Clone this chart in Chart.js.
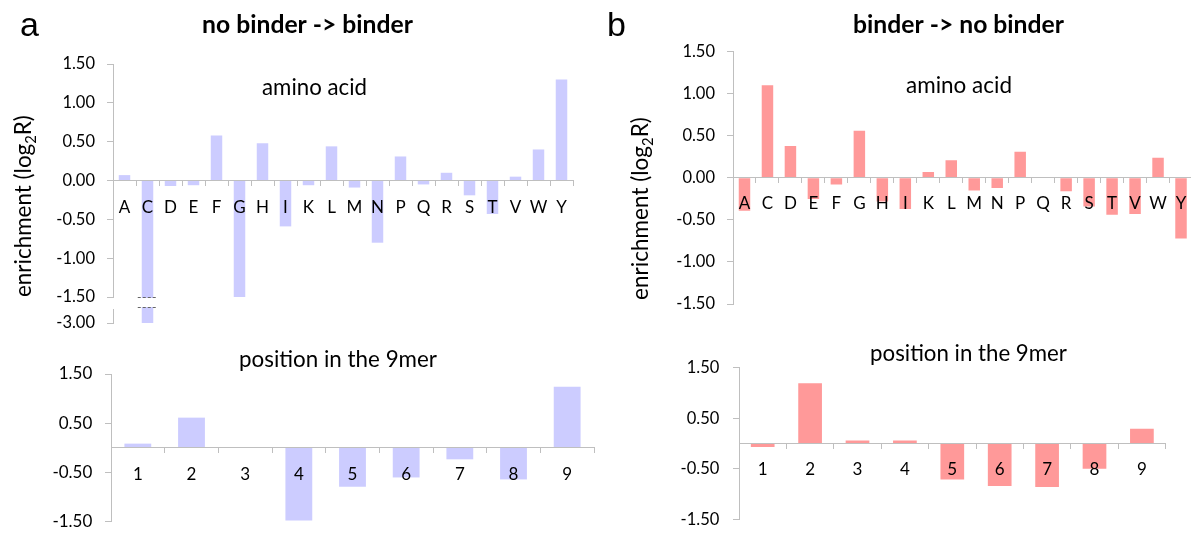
<!DOCTYPE html>
<html>
<head>
<meta charset="utf-8">
<script src="https://cdn.jsdelivr.net/npm/chart.js@4.4.0/dist/chart.umd.min.js"></script>
<style>
html,body{margin:0;padding:0;background:#fff;overflow:hidden;width:1191px;height:544px;}
canvas{position:absolute;left:0;top:0;}
</style>
</head>
<body>
<canvas id="cA1" width="1200" height="544"></canvas>
<canvas id="cA2" width="1200" height="544"></canvas>
<canvas id="cB1" width="1200" height="544"></canvas>
<canvas id="cB2" width="1200" height="544"></canvas>
<script>
// ---------------- data ----------------
const aminoAcids = ['A','C','D','E','F','G','H','I','K','L','M','N','P','Q','R','S','T','V','W','Y'];
const positions = ['1','2','3','4','5','6','7','8','9'];

const aaNoBinderToBinder  = [0.07,-3.00,-0.07,-0.06,0.58,-1.50,0.48,-0.59,-0.06,0.44,-0.09,-0.80,0.31,-0.05,0.10,-0.19,-0.43,0.05,0.40,1.30];
const posNoBinderToBinder = [0.08,0.61,0.00,-1.49,-0.80,-0.61,-0.24,-0.65,1.24];
const aaBinderToNoBinder  = [-0.39,1.10,0.38,-0.25,-0.08,0.56,-0.28,-0.37,0.07,0.21,-0.15,-0.12,0.31,0.01,-0.16,-0.34,-0.44,-0.43,0.24,-0.72];
const posBinderToNoBinder = [-0.07,1.19,0.06,0.06,-0.71,-0.84,-0.86,-0.50,0.29];

const aaTicksBroken = [1.5,1.0,0.5,0,-0.5,-1.0,-1.5,-3.0];
const aaTicks       = [1.5,1.0,0.5,0,-0.5,-1.0,-1.5];
const posTicks      = [1.5,0.5,-0.5,-1.5];

// broken axis: values below breakAt are compressed
const breakAt = -1.5;
const breakFactor = 2/9;
const fwd = v => v >= breakAt ? v : breakAt + (v - breakAt) * breakFactor;
const inv = t => t >= breakAt - 1e-9 ? t : breakAt + (t - breakAt) / breakFactor;
const ident = v => v;

const BLUE = '#CCCCFF';
const PINK = '#FF9999';
const AXIS = '#BFBFBF';
const FONT = 'Lato';

// ---------------- plugins ----------------
function breakPlugin(raw) {
  return {
    id: 'axisBreak',
    afterDraw(chart) {
      const {ctx, scales: {y}} = chart;
      const yb = Math.round(y.getPixelForValue(fwd(breakAt)));
      ctx.save();
      ctx.fillStyle = '#fff';
      ctx.fillRect(y.right - 2, yb + 1, 4, 11);
      const meta = chart.getDatasetMeta(0);
      meta.data.forEach((bar, i) => {
        if (raw[i] < breakAt - 0.05) {
          const half = bar.width / 2;
          ctx.fillStyle = '#fff';
          ctx.fillRect(bar.x - half - 1, yb + 1, bar.width + 2, 9);
          ctx.strokeStyle = '#666';
          ctx.lineWidth = 1;
          ctx.setLineDash([3, 2]);
          [yb + 0.5, yb + 10.5].forEach(py => {
            ctx.beginPath();
            ctx.moveTo(bar.x - half - 4, py);
            ctx.lineTo(bar.x + half + 3, py);
            ctx.stroke();
          });
        }
      });
      ctx.restore();
    }
  };
}

function fitSize(ctx, text, weight, family, target) {
  ctx.font = `${weight} 100px ${family}`;
  return 100 * target / ctx.measureText(text).width;
}

const figureTexts = [
  {s: 'a', x: 20, y: 36, size: 34, family: '"Liberation Sans"', weight: 'normal', align: 'left'},
  {s: 'b', x: 607, y: 36, size: 34, family: '"Liberation Sans"', weight: 'normal', align: 'left'},
  {s: 'no binder -> binder', x: 307.5, y: 33.3, width: 211, weight: 'bold', align: 'center'},
  {s: 'binder -> no binder', x: 958.5, y: 33.3, width: 211, weight: 'bold', align: 'center'},
  {s: 'amino acid', x: 314.5, y: 95, width: 105, weight: 'normal', align: 'center'},
  {s: 'amino acid', x: 959, y: 92.7, width: 106, weight: 'normal', align: 'center'},
  {s: 'position in the 9mer', x: 338, y: 366.7, width: 198, weight: 'normal', align: 'center'},
  {s: 'position in the 9mer', x: 968.5, y: 361, width: 197, weight: 'normal', align: 'center'}
];
const yTitles = [
  {x: 30.7, y: 297, len: 182},
  {x: 648.3, y: 300, len: 183}
];

function drawYTitle(ctx, bx, by, len) {
  const parts = [['enrichment (log', 1, 0], ['2', 0.66, 0.22], ['R)', 1, 0]];
  let total = 0;
  parts.forEach(p => { ctx.font = `${100 * p[1]}px ${FONT}`; total += ctx.measureText(p[0]).width; });
  const size = 100 * len / total;
  ctx.save();
  ctx.translate(bx, by);
  ctx.rotate(-Math.PI / 2);
  ctx.fillStyle = '#000';
  ctx.textAlign = 'left';
  ctx.textBaseline = 'alphabetic';
  let x = 0;
  parts.forEach(p => {
    ctx.font = `${size * p[1]}px ${FONT}`;
    ctx.fillText(p[0], x, p[2] * size);
    x += ctx.measureText(p[0]).width;
  });
  ctx.restore();
}

const textPlugin = {
  id: 'figureText',
  afterDraw(chart) {
    const ctx = chart.ctx;
    ctx.save();
    ctx.fillStyle = '#000';
    ctx.textBaseline = 'alphabetic';
    figureTexts.forEach(t => {
      const fam = t.family || FONT;
      const size = t.size || fitSize(ctx, t.s, t.weight, fam, t.width);
      ctx.font = `${t.weight} ${size}px ${fam}`;
      ctx.textAlign = t.align;
      ctx.fillText(t.s, t.x, t.y);
    });
    yTitles.forEach(t => drawYTitle(ctx, t.x, t.y, t.len));
    ctx.restore();
  }
};

// ---------------- chart factory ----------------
function makeChart(id, cfg) {
  const yW = 80;
  const W = 1200, H = 544;
  const tf = cfg.transform || ident;
  const invf = cfg.transform ? inv : ident;
  return new Chart(document.getElementById(id), {
    type: 'bar',
    data: {
      labels: cfg.labels,
      datasets: [{
        data: cfg.values.map(tf),
        backgroundColor: cfg.color,
        borderWidth: 0,
        categoryPercentage: 1,
        barPercentage: 0.5
      }]
    },
    options: {
      responsive: false,
      animation: false,
      events: [],
      layout: {padding: {left: cfg.area.left - yW, right: W - cfg.area.right, top: cfg.area.top, bottom: H - cfg.area.bottom}},
      plugins: {legend: {display: false}, tooltip: {enabled: false}, title: {display: false}},
      scales: {
        x: {
          type: 'category',
          position: {y: 0},
          offset: true,
          grid: {display: true, offset: true, drawOnChartArea: false, drawTicks: true, tickLength: 5, color: AXIS, lineWidth: 1, z: 1},
          border: {display: true, color: AXIS, width: 1, z: 1},
          ticks: {font: {family: FONT, size: cfg.xFont}, color: '#000', padding: cfg.xPad, maxRotation: 0, autoSkip: false, z: 1}
        },
        y: {
          type: 'linear',
          min: tf(cfg.yMin),
          max: tf(cfg.yMax),
          afterBuildTicks: s => { s.ticks = cfg.ticks.map(v => ({value: tf(v)})); },
          afterFit: s => { s.width = yW; },
          grid: {display: true, drawOnChartArea: false, drawTicks: true, tickLength: 6, color: AXIS, lineWidth: 1},
          border: {display: true, color: AXIS, width: 1},
          ticks: {
            font: {family: FONT, size: cfg.yFont},
            color: '#000',
            padding: cfg.yPad,
            callback: v => invf(v).toFixed(2)
          }
        }
      }
    },
    plugins: cfg.plugins || []
  });
}

makeChart('cA1', {
  labels: aminoAcids, values: aaNoBinderToBinder, color: BLUE,
  area: {left: 113, right: 573, top: 64, bottom: 323},
  yMin: -3.0, yMax: 1.5, ticks: aaTicksBroken, transform: fwd,
  xFont: 17, yFont: 16.5, xPad: 11.5, yPad: 12,
  plugins: [breakPlugin(aaNoBinderToBinder), textPlugin]
});
makeChart('cA2', {
  labels: positions, values: posNoBinderToBinder, color: BLUE,
  area: {left: 111, right: 594, top: 374, bottom: 534},
  yMin: -1.5, yMax: 1.5, ticks: posTicks,
  xFont: 17, yFont: 17, xPad: 11.5, yPad: 12.7
});
makeChart('cB1', {
  labels: aminoAcids, values: aaBinderToNoBinder, color: PINK,
  area: {left: 733, right: 1192.5, top: 51.7, bottom: 304},
  yMin: -1.5, yMax: 1.5, ticks: aaTicks,
  xFont: 17, yFont: 16.5, xPad: 10.5, yPad: 12
});
makeChart('cB2', {
  labels: positions, values: posBinderToNoBinder, color: PINK,
  area: {left: 739, right: 1165.6, top: 367.7, bottom: 519.3},
  yMin: -1.5, yMax: 1.5, ticks: posTicks,
  xFont: 17, yFont: 16.5, xPad: 10.5, yPad: 13.7
});
</script>
</body>
</html>
